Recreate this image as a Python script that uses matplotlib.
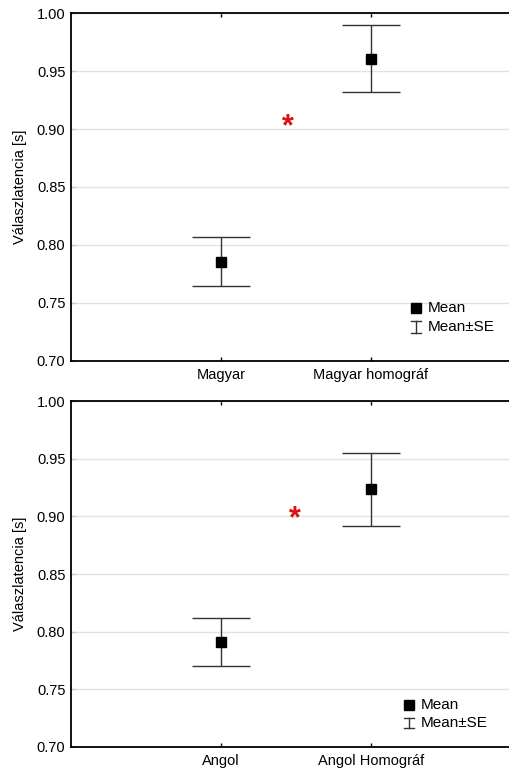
import matplotlib
matplotlib.use("Agg")
import matplotlib.pyplot as plt
from matplotlib.transforms import offset_copy

plt.rcParams['font.family'] = ['Liberation Sans', 'DejaVu Sans']

# Mean response latency (s) and standard error per condition
top_categories = ["Magyar", "Magyar homográf"]
top_means = [0.7855, 0.9608]
top_se = [0.0212, 0.0287]
top_star = (1.445, 0.9064)

bottom_categories = ["Angol", "Angol Homográf"]
bottom_means = [0.7911, 0.9234]
bottom_se = [0.0207, 0.0321]
bottom_star = (1.489, 0.9031)

y_ticks = [0.70, 0.75, 0.80, 0.85, 0.90, 0.95, 1.00]
y_label = "Válaszlatencia [s]"

W, H = 510, 774
fig = plt.figure(figsize=(W / 100, H / 100), dpi=100)
FS = 10.5


def px_axes(left, top, right, bottom):
    return fig.add_axes([left / W, 1 - bottom / H, (right - left) / W, (bottom - top) / H])


def draw_panel(ax, cats, means, se, star, leg_sq, leg_se):
    xs = list(range(1, len(cats) + 1))
    ax.set_xlim(0, 3)
    ax.set_ylim(0.70, 1.00)
    ax.set_yticks(y_ticks)
    ax.set_yticklabels([f"{v:.2f}" for v in y_ticks], fontsize=FS)
    ax.set_xticks(xs)
    ax.set_xticklabels(cats, fontsize=FS)
    ax.grid(axis='y', color='#e2e2e2', lw=1.0)
    ax.set_axisbelow(True)
    for s in ('left', 'bottom', 'top'):
        ax.spines[s].set_linewidth(1.3)
    ax.spines['right'].set_visible(False)
    ax.tick_params(axis='x', direction='in', top=True, length=3, width=1, pad=5)
    ax.tick_params(axis='y', direction='in', length=3, width=1, color='#c8c8c8', pad=4)
    ax.set_ylabel(y_label, fontsize=FS, labelpad=7)

    ax.errorbar(xs, means, yerr=se, fmt='s', color='black', ms=7.5,
                ecolor='#333333', elinewidth=1.0, capsize=21, capthick=1.0, zorder=3)

    # the asterisk glyph sits high in its text box; shift it so its centre lands on the point
    star_tr = offset_copy(ax.transData, fig=fig, x=0, y=-6, units='dots')
    ax.text(star[0], star[1], "*", color='#e01010', fontsize=22, fontweight='bold',
            ha='center', va='center', transform=star_tr)

    # legend: mean marker and mean±SE glyph
    tr = ax.transAxes
    sx, sy, tx = leg_sq
    ax.plot([sx], [sy], 's', color='black', ms=7, transform=tr, clip_on=False)
    ax.text(tx, sy, "Mean", fontsize=11, va='center', ha='left', transform=tr)
    gx, gy, gh = leg_se
    hw = 0.011
    ax.plot([gx, gx], [gy - gh, gy + gh], color='#333333', lw=1, transform=tr, clip_on=False)
    ax.plot([gx - hw, gx + hw], [gy + gh, gy + gh], color='#333333', lw=1, transform=tr, clip_on=False)
    ax.plot([gx - hw, gx + hw], [gy - gh, gy - gh], color='#333333', lw=1, transform=tr, clip_on=False)
    ax.text(tx, gy, "Mean±SE", fontsize=11, va='center', ha='left', transform=tr)


ax1 = px_axes(71, 13.3, 521, 360.7)
draw_panel(ax1, top_categories, top_means, top_se, top_star,
           (0.767, 0.151, 0.793), (0.767, 0.097, 0.016))

ax2 = px_axes(71, 401.3, 521, 746.7)
draw_panel(ax2, bottom_categories, bottom_means, bottom_se, bottom_star,
           (0.752, 0.121, 0.778), (0.752, 0.068, 0.015))

fig.savefig("out.png", dpi=100)
